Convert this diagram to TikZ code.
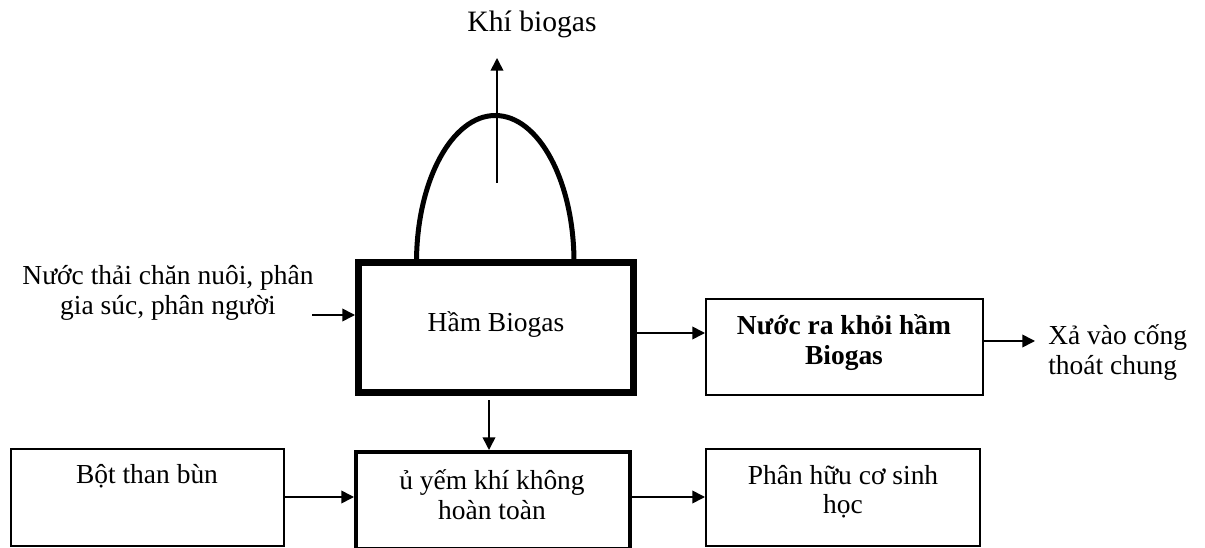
\documentclass[tikz,border=0pt]{standalone}
\usepackage{fontspec}
\setmainfont{Liberation Serif}
\usetikzlibrary{arrows.meta}
\tikzset{
  box/.style={draw, line width=1.5pt, minimum width=#1, inner sep=0pt, fill=white},
  thickbox/.style={draw, line width=5.25pt, inner sep=0pt},
  ubox/.style={draw, line width=3pt, inner sep=0pt},
  txt/.style={anchor=base, inner sep=0pt, font=\fontsize{20.6}{22.5}\selectfont},
  txtl/.style={anchor=base west, inner sep=0pt, font=\fontsize{20.6}{22.5}\selectfont},
  btxt/.style={anchor=base, inner sep=0pt, font=\fontsize{20.6}{22.5}\selectfont\bfseries},
  arr/.style={line width=1.2pt, -{Triangle[length=9.5pt,width=9.5pt]}},
  dome/.style={line width=3.75pt}
}
\begin{document}
\begin{tikzpicture}[x=0.75pt,y=-0.75pt]
\useasboundingbox (0,0) rectangle (1205,548);
% dome
\draw[dome] (416.5,262.5) arc[start angle=180, end angle=360, x radius=78.75, y radius=147];
% boxes
\node[thickbox, minimum width=206.25pt, minimum height=97.5pt] (ham) at (496,327.5) {};
\node[box=207.75pt, minimum height=72pt] (nuoc) at (844.5,347) {};
\node[box=204.75pt, minimum height=72.75pt] (bot) at (147.5,497.5) {};
\node[ubox, minimum width=205.5pt, minimum height=72.75pt] (u) at (493,500.5) {};
\node[box=205.5pt, minimum height=72.75pt] (phan) at (843,497.5) {};
% texts
\node[txt, font=\fontsize{22.2}{24}\selectfont] (khi) at (532,32) {Khí biogas};
\node[txt] (src1) at (168,285) {Nước thải chăn nuôi, phân};
\node[txt] (src2) at (168,315) {gia súc, phân người};
\node[txt] (hamt) at (496,332) {Hầm Biogas};
\node[btxt] (nuoc1) at (844,335) {Nước ra khỏi hầm};
\node[btxt] (nuoc2) at (844,365) {Biogas};
\node[txtl] (xa1) at (1048,345) {Xả vào cống};
\node[txtl] (xa2) at (1048,375) {thoát chung};
\node[txt] (bott) at (147,483) {Bột than bùn};
\node[txt] (u1) at (492,489) {ủ yếm khí không};
\node[txt] (u2) at (492,519) {hoàn toàn};
\node[txt] (ph1) at (843,484) {Phân hữu cơ sinh};
\node[txt] (ph2) at (843,513) {học};
% connectors
\coordinate (gasS) at (497,183);
\coordinate (gasT) at (497,58);
\draw[arr] (gasS) -- (gasT);
\coordinate (srcA) at (312,315);
\draw[arr] (srcA) -- (srcA -| ham.west);
\coordinate (yA) at (0,333);
\draw[arr] (ham.east |- yA) -- (nuoc.west |- yA);
\coordinate (xaTip) at (1035,341);
\draw[arr] (nuoc.east |- xaTip) -- (xaTip);
\coordinate (xD) at (489,0);
\draw[arr, shorten <=3pt] (ham.south -| xD) -- (u.north -| xD);
\coordinate (yB) at (0,497);
\draw[arr] (bot.east |- yB) -- (u.west |- yB);
\draw[arr] (u.east |- yB) -- (phan.west |- yB);
\end{tikzpicture}
\end{document}
